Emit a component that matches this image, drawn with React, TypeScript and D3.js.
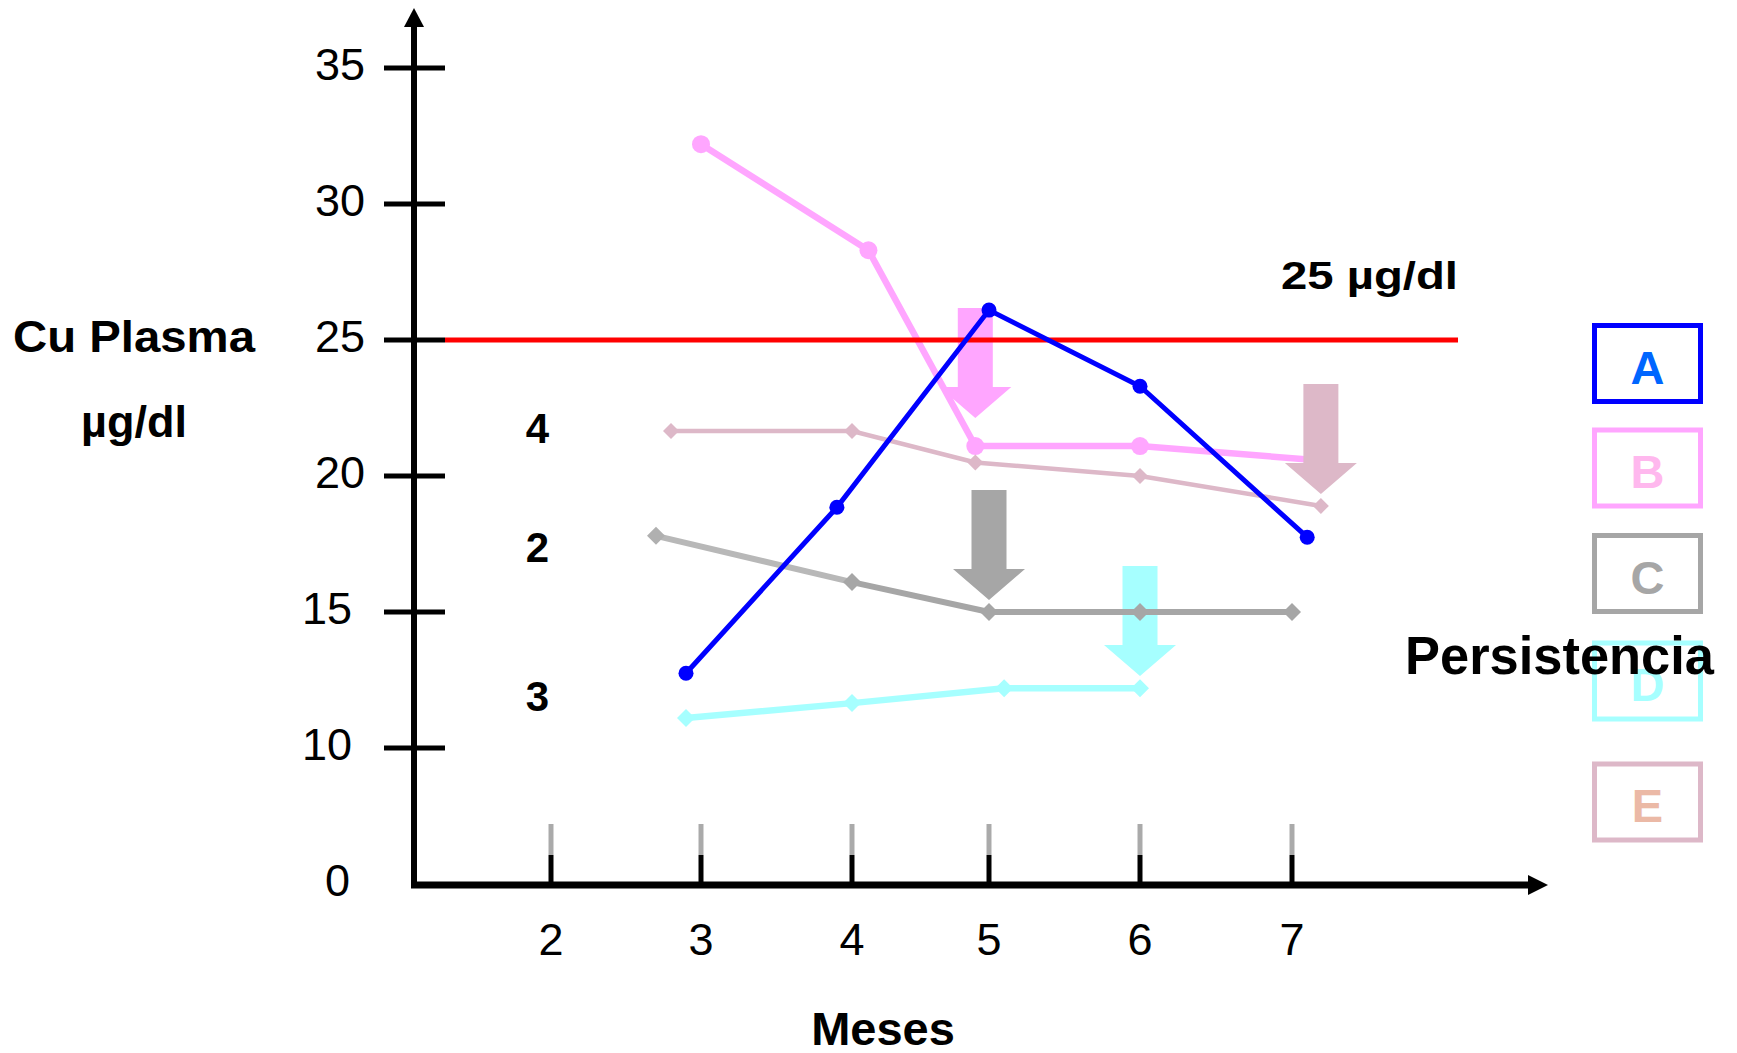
import React from "react";
import * as d3 from "d3";

// ---------- data ----------
const months = [2, 3, 4, 5, 6, 7];
const yTicks = [10, 15, 20, 25, 30, 35];
const threshold = 25;
const thresholdLabel = "25 µg/dl";

const aX = [2.9, 3.9, 5.0, 6.0, 7.1];
const aY = [12.75, 18.85, 26.1, 23.3, 17.75];
const bX = [3.0, 4.12, 4.9, 6.0, 7.19];
const bY = [32.2, 28.3, 21.1, 21.1, 20.57];
const cX = [2.7, 4.0, 5.0, 6.0, 7.0];
const cY = [17.8, 16.1, 15.0, 15.0, 15.0];
const dX = [2.9, 4.0, 5.1, 6.0];
const dY = [11.1, 11.65, 12.2, 12.2];
const eX = [2.8, 4.0, 4.9, 6.0, 7.19];
const eY = [21.65, 21.65, 20.5, 20.0, 18.9];

// arrows: x (month) and tip value
const arrowX = [4.9, 5.0, 6.0, 7.19];
const arrowTip = [22.13, 15.44, 12.65, 19.34];
const arrowColors = ["#FFA6FF", "#A6A6A6", "#A6FFFF", "#DDB8C8"];

// group annotations
const groupLabels = ["4", "2", "3"];
const groupLabelY = [21.75, 17.4, 11.9];
const groupLabelX = 1.91;

// legend
const legendLetters = ["A", "B", "C", "D", "E"];
const legendBorder = ["#0000FF", "#FFA6FF", "#A6A6A6", "#A6FFFF", "#DDB8C8"];
const legendText = ["#0066FF", "#FFB8EE", "#A6A6A6", "#A6FFFF", "#EBB9A6"];
const legendTitle = "Persistencia";

const FONT = "'Liberation Sans', Arial, Helvetica, sans-serif";

export default function App() {
  const x = d3
    .scaleLinear()
    .domain([2, 3, 4, 5, 6, 7])
    .range([551, 701, 852, 989, 1140, 1292]);
  const y = d3.scaleLinear().domain([10, 35]).range([748, 68]);

  const axisX = 414;
  const axisY = 885;

  const line = d3
    .line<[number, number]>()
    .x((d) => x(d[0]))
    .y((d) => y(d[1]));

  const pts = (xs: number[], ys: number[]) =>
    xs.map((v, i) => [v, ys[i]] as [number, number]);

  const diamond = (cx: number, cy: number, h: number) =>
    `M${cx},${cy - h}L${cx + h},${cy}L${cx},${cy + h}L${cx - h},${cy}Z`;

  const arrowPath = (tx: number, ty: number) => {
    const headH = 31,
      total = 110,
      headW = 36,
      shaftW = 17.5;
    return `M${tx - shaftW},${ty - total}L${tx + shaftW},${ty - total}L${tx + shaftW},${ty - headH}L${tx + headW},${ty - headH}L${tx},${ty}L${tx - headW},${ty - headH}L${tx - shaftW},${ty - headH}Z`;
  };

  const A = pts(aX, aY);
  const B = pts(bX, bY);
  const C = pts(cX, cY);
  const D = pts(dX, dY);
  const E = pts(eX, eY);

  const legendTop = [323, 427.5, 533, 640.5, 761.5];
  const boxH = 81;

  return (
    <svg
      width={1737}
      height={1053}
      style={{ position: "absolute", left: 0, top: 0, background: "#fff" }}
      fontFamily={FONT}
    >
      <rect width={1737} height={1053} fill="#fff" />

      {/* y axis label */}
      <text x={134} y={351.7} fontSize={45} fontWeight="bold" textAnchor="middle" textLength={242} lengthAdjust="spacingAndGlyphs">
        Cu Plasma
      </text>
      <text x={134} y={436.7} fontSize={45} fontWeight="bold" textAnchor="middle">
        µg/dl
      </text>

      {/* y tick labels */}
      {yTicks.map((t) => (
        <text
          key={t}
          x={t >= 20 ? 365 : 352}
          y={y(t) + 12}
          fontSize={45}
          textAnchor="end"
        >
          {t}
        </text>
      ))}
      <text x={337.5} y={895.5} fontSize={45} textAnchor="middle">
        0
      </text>

      {/* x ticks */}
      {months.map((m) => (
        <g key={m}>
          <line x1={x(m)} x2={x(m)} y1={824} y2={855} stroke="#AAAAAA" strokeWidth={5} />
          <line x1={x(m)} x2={x(m)} y1={855} y2={axisY} stroke="#000" strokeWidth={5} />
          <text x={x(m)} y={955} fontSize={45} textAnchor="middle">
            {m}
          </text>
        </g>
      ))}
      <text x={883} y={1045} fontSize={47} fontWeight="bold" textAnchor="middle">
        Meses
      </text>

      {/* y ticks */}
      {yTicks.map((t) => (
        <line key={t} x1={384} x2={445} y1={y(t)} y2={y(t)} stroke="#000" strokeWidth={5} />
      ))}

      {/* axes */}
      <line x1={axisX} x2={axisX} y1={26} y2={axisY + 3} stroke="#000" strokeWidth={6} />
      <path d={`M${axisX},8L${axisX + 10},27L${axisX - 10},27Z`} fill="#000" />
      <line x1={axisX - 3} x2={1530} y1={axisY} y2={axisY} stroke="#000" strokeWidth={7} />
      <path d={`M1548,${axisY}L1528,${axisY - 10}L1528,${axisY + 10}Z`} fill="#000" />

      {/* series B (under arrows) */}
      <path d={line(B) || ""} fill="none" stroke="#FFA6FF" strokeWidth={6.5} />
      {B.map((p, i) => (
        <circle key={i} cx={x(p[0])} cy={y(p[1])} r={9} fill="#FFA6FF" />
      ))}

      {/* arrows */}
      {arrowX.map((ax, i) => (
        <path key={i} d={arrowPath(x(ax), y(arrowTip[i]))} fill={arrowColors[i]} />
      ))}

      {/* threshold */}
      <line x1={445} x2={1458} y1={y(threshold)} y2={y(threshold)} stroke="#FF0000" strokeWidth={5} />
      <text x={1458} y={289} fontSize={38} fontWeight="bold" textAnchor="end" textLength={177} lengthAdjust="spacingAndGlyphs">
        {thresholdLabel}
      </text>

      {/* series C */}
      {C.slice(0, -1).map((p, i) => (
        <line
          key={i}
          x1={x(p[0])}
          y1={y(p[1])}
          x2={x(C[i + 1][0])}
          y2={y(C[i + 1][1])}
          stroke={i === 0 ? "#B8B8B8" : "#A6A6A6"}
          strokeWidth={6}
        />
      ))}
      {C.map((p, i) => (
        <path key={i} d={diamond(x(p[0]), y(p[1]), 9)} fill={i === 0 ? "#B0B0B0" : "#A6A6A6"} />
      ))}

      {/* series D */}
      <path d={line(D) || ""} fill="none" stroke="#A6FFFF" strokeWidth={6.5} />
      {D.map((p, i) => (
        <path key={i} d={diamond(x(p[0]), y(p[1]), 9)} fill="#A6FFFF" />
      ))}

      {/* series E */}
      <path d={line(E) || ""} fill="none" stroke="#DDB8C8" strokeWidth={4.5} />
      {E.map((p, i) => (
        <path key={i} d={diamond(x(p[0]), y(p[1]), 8)} fill="#DDB8C8" />
      ))}

      {/* series A */}
      <path d={line(A) || ""} fill="none" stroke="#0000FF" strokeWidth={5} />
      {A.map((p, i) => (
        <circle key={i} cx={x(p[0])} cy={y(p[1])} r={7.5} fill="#0000FF" />
      ))}

      {/* group labels */}
      {groupLabels.map((g, i) => (
        <text
          key={g}
          x={x(groupLabelX)}
          y={y(groupLabelY[i]) + 15}
          fontSize={42}
          fontWeight="bold"
          textAnchor="middle"
        >
          {g}
        </text>
      ))}

      {/* legend */}
      {legendLetters.map((l, i) => (
        <g key={l}>
          <rect
            x={1594.5}
            y={legendTop[i] + 2.5}
            width={106}
            height={boxH - 5}
            fill="none"
            stroke={legendBorder[i]}
            strokeWidth={5}
          />
          <text
            x={1647.5}
            y={legendTop[i] + boxH / 2 + 20}
            fontSize={47}
            fontWeight="bold"
            fill={legendText[i]}
            textAnchor="middle"
          >
            {l}
          </text>
        </g>
      ))}
      <text x={1405} y={674} fontSize={54} fontWeight="bold" textLength={309} lengthAdjust="spacingAndGlyphs">
        {legendTitle}
      </text>
    </svg>
  );
}
